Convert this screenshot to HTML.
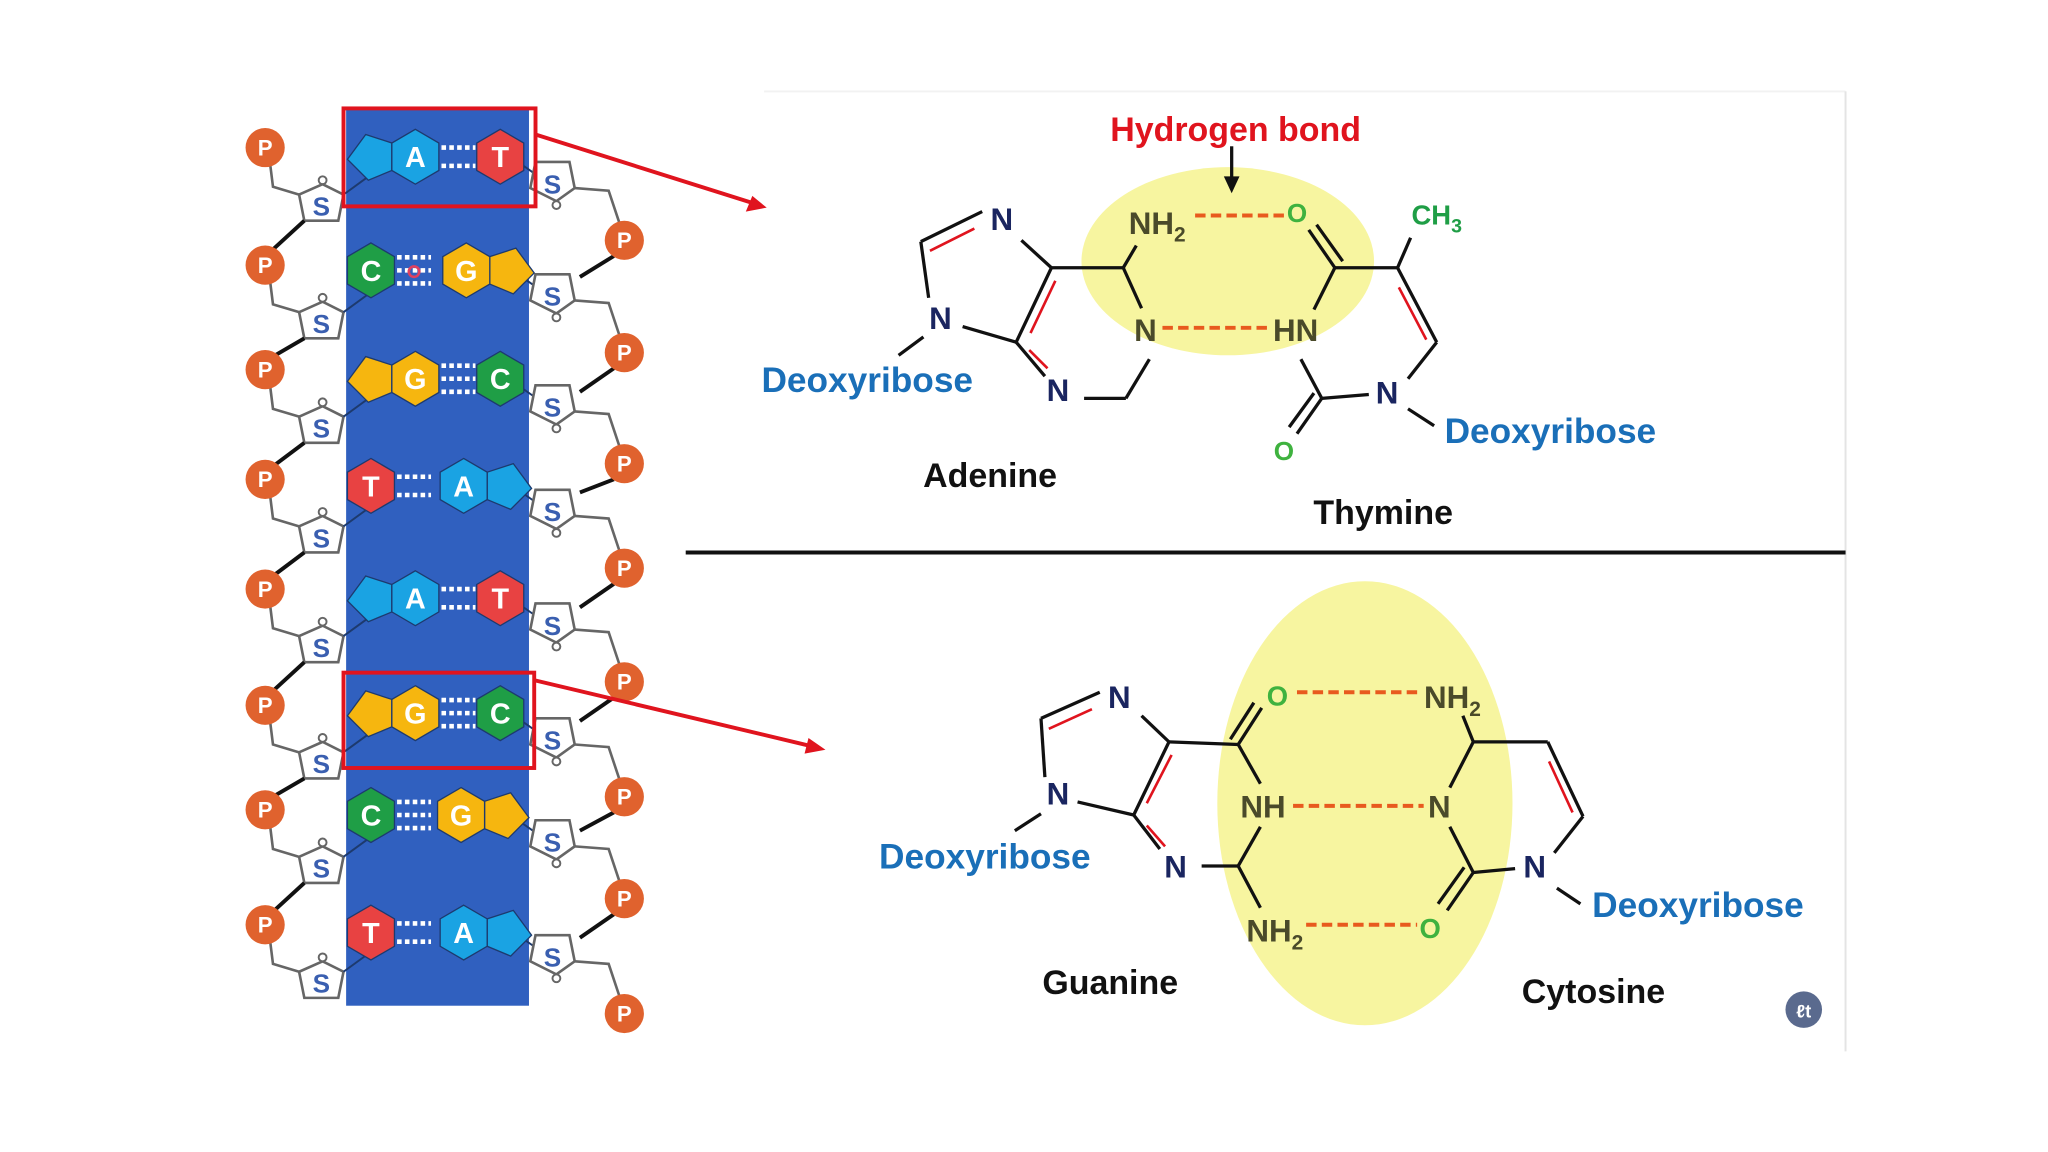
<!DOCTYPE html>
<html><head><meta charset="utf-8"><style>
html,body{margin:0;padding:0;background:#fff;}
svg{display:block;}
text{font-family:"Liberation Sans",sans-serif;font-weight:bold;}
</style></head><body>
<svg width="2048" height="1152" viewBox="0 0 1568 882" xmlns="http://www.w3.org/2000/svg">
<defs>
<g id="hex"><polygon points="0,-21 18,-10.5 18,10.5 0,21 -18,10.5 -18,-10.5" stroke="#1d3a6e" stroke-width="1"/></g>
<g id="pentL"><polygon points="-18,-10.5 -18,10.5 -36,18 -52,2 -38,-17" stroke="#1d3a6e" stroke-width="1"/></g>
<g id="pentR"><polygon points="18,-10.5 18,10.5 36,18 52,2 38,-17" stroke="#1d3a6e" stroke-width="1"/></g>
<g id="dots2" stroke="#fff" stroke-width="3.5" stroke-dasharray="3.5,2.5"><line x1="0" y1="-7" x2="26" y2="-7"/><line x1="0" y1="7" x2="26" y2="7"/></g>
<g id="dots3" stroke="#fff" stroke-width="3.5" stroke-dasharray="3.5,2.5"><line x1="0" y1="-10" x2="26" y2="-10"/><line x1="0" y1="0" x2="26" y2="0"/><line x1="0" y1="10" x2="26" y2="10"/></g>
</defs>
<rect width="1568" height="882" fill="#fff"/>
<line x1="585" y1="70" x2="1413" y2="70" stroke="#f2f2f2" stroke-width="1.5"/>
<line x1="1413" y1="70" x2="1413" y2="805" stroke="#e4e4e4" stroke-width="1.5"/>

<!-- blue band -->
<rect x="265" y="83" width="140" height="687" fill="#3060bf"/>

<!-- left backbone units -->
<g id="leftUnits" font-size="17">
<g transform="translate(203,113)">
<path d="M4,14 L6,30 L26,36" fill="none" stroke="#666" stroke-width="2"/>
<polygon points="26,36 44,28 60,36 56,56 30,56" fill="#fff" stroke="#666" stroke-width="2"/>
<line x1="60" y1="36" x2="82" y2="20" stroke="#1d3a6e" stroke-width="1.5"/>
<circle cx="44" cy="25" r="3" fill="#fff" stroke="#666" stroke-width="1.5"/>
<text x="43" y="52" fill="#3a5fb0" font-size="20" text-anchor="middle">S</text>
<line x1="30" y1="56" x2="6" y2="78" stroke="#111" stroke-width="3"/>
<circle r="15" fill="#e0622e"/><text y="6" fill="#fff" text-anchor="middle">P</text></g>
<g transform="translate(203,203)">
<path d="M4,14 L6,30 L26,36" fill="none" stroke="#666" stroke-width="2"/>
<polygon points="26,36 44,28 60,36 56,56 30,56" fill="#fff" stroke="#666" stroke-width="2"/>
<line x1="60" y1="36" x2="82" y2="20" stroke="#1d3a6e" stroke-width="1.5"/>
<circle cx="44" cy="25" r="3" fill="#fff" stroke="#666" stroke-width="1.5"/>
<text x="43" y="52" fill="#3a5fb0" font-size="20" text-anchor="middle">S</text>
<line x1="30" y1="56" x2="6" y2="70" stroke="#111" stroke-width="3"/>
<circle r="15" fill="#e0622e"/><text y="6" fill="#fff" text-anchor="middle">P</text></g>
<g transform="translate(203,283)">
<path d="M4,14 L6,30 L26,36" fill="none" stroke="#666" stroke-width="2"/>
<polygon points="26,36 44,28 60,36 56,56 30,56" fill="#fff" stroke="#666" stroke-width="2"/>
<line x1="60" y1="36" x2="82" y2="20" stroke="#1d3a6e" stroke-width="1.5"/>
<circle cx="44" cy="25" r="3" fill="#fff" stroke="#666" stroke-width="1.5"/>
<text x="43" y="52" fill="#3a5fb0" font-size="20" text-anchor="middle">S</text>
<line x1="30" y1="56" x2="6" y2="74" stroke="#111" stroke-width="3"/>
<circle r="15" fill="#e0622e"/><text y="6" fill="#fff" text-anchor="middle">P</text></g>
<g transform="translate(203,367)">
<path d="M4,14 L6,30 L26,36" fill="none" stroke="#666" stroke-width="2"/>
<polygon points="26,36 44,28 60,36 56,56 30,56" fill="#fff" stroke="#666" stroke-width="2"/>
<line x1="60" y1="36" x2="82" y2="20" stroke="#1d3a6e" stroke-width="1.5"/>
<circle cx="44" cy="25" r="3" fill="#fff" stroke="#666" stroke-width="1.5"/>
<text x="43" y="52" fill="#3a5fb0" font-size="20" text-anchor="middle">S</text>
<line x1="30" y1="56" x2="6" y2="74" stroke="#111" stroke-width="3"/>
<circle r="15" fill="#e0622e"/><text y="6" fill="#fff" text-anchor="middle">P</text></g>
<g transform="translate(203,451)">
<path d="M4,14 L6,30 L26,36" fill="none" stroke="#666" stroke-width="2"/>
<polygon points="26,36 44,28 60,36 56,56 30,56" fill="#fff" stroke="#666" stroke-width="2"/>
<line x1="60" y1="36" x2="82" y2="20" stroke="#1d3a6e" stroke-width="1.5"/>
<circle cx="44" cy="25" r="3" fill="#fff" stroke="#666" stroke-width="1.5"/>
<text x="43" y="52" fill="#3a5fb0" font-size="20" text-anchor="middle">S</text>
<line x1="30" y1="56" x2="6" y2="78" stroke="#111" stroke-width="3"/>
<circle r="15" fill="#e0622e"/><text y="6" fill="#fff" text-anchor="middle">P</text></g>
<g transform="translate(203,540)">
<path d="M4,14 L6,30 L26,36" fill="none" stroke="#666" stroke-width="2"/>
<polygon points="26,36 44,28 60,36 56,56 30,56" fill="#fff" stroke="#666" stroke-width="2"/>
<line x1="60" y1="36" x2="82" y2="20" stroke="#1d3a6e" stroke-width="1.5"/>
<circle cx="44" cy="25" r="3" fill="#fff" stroke="#666" stroke-width="1.5"/>
<text x="43" y="52" fill="#3a5fb0" font-size="20" text-anchor="middle">S</text>
<line x1="30" y1="56" x2="6" y2="70" stroke="#111" stroke-width="3"/>
<circle r="15" fill="#e0622e"/><text y="6" fill="#fff" text-anchor="middle">P</text></g>
<g transform="translate(203,620)">
<path d="M4,14 L6,30 L26,36" fill="none" stroke="#666" stroke-width="2"/>
<polygon points="26,36 44,28 60,36 56,56 30,56" fill="#fff" stroke="#666" stroke-width="2"/>
<line x1="60" y1="36" x2="82" y2="20" stroke="#1d3a6e" stroke-width="1.5"/>
<circle cx="44" cy="25" r="3" fill="#fff" stroke="#666" stroke-width="1.5"/>
<text x="43" y="52" fill="#3a5fb0" font-size="20" text-anchor="middle">S</text>
<line x1="30" y1="56" x2="6" y2="78" stroke="#111" stroke-width="3"/>
<circle r="15" fill="#e0622e"/><text y="6" fill="#fff" text-anchor="middle">P</text></g>
<g transform="translate(203,708)">
<path d="M4,14 L6,30 L26,36" fill="none" stroke="#666" stroke-width="2"/>
<polygon points="26,36 44,28 60,36 56,56 30,56" fill="#fff" stroke="#666" stroke-width="2"/>
<line x1="60" y1="36" x2="82" y2="20" stroke="#1d3a6e" stroke-width="1.5"/>
<circle cx="44" cy="25" r="3" fill="#fff" stroke="#666" stroke-width="1.5"/>
<text x="43" y="52" fill="#3a5fb0" font-size="20" text-anchor="middle">S</text>
<circle r="15" fill="#e0622e"/><text y="6" fill="#fff" text-anchor="middle">P</text></g>
</g>

<!-- right backbone units -->
<g font-size="17">
<g transform="translate(478,184)">
<line x1="-70" y1="-52" x2="-90" y2="-66" stroke="#1d3a6e" stroke-width="1.5"/>
<path d="M-38,-40 L-12,-38 L-4,-14" fill="none" stroke="#666" stroke-width="2"/>
<polygon points="-68,-60 -42,-60 -38,-40 -52,-30 -72,-40" fill="#fff" stroke="#666" stroke-width="2"/>
<circle cx="-52" cy="-27" r="3" fill="#fff" stroke="#666" stroke-width="1.5"/>
<text x="-55" y="-36" fill="#3a5fb0" font-size="20" text-anchor="middle">S</text>
<line x1="-8" y1="12" x2="-34" y2="28" stroke="#111" stroke-width="3"/>
<circle r="15" fill="#e0622e"/><text y="6" fill="#fff" text-anchor="middle">P</text></g>
<g transform="translate(478,270)">
<line x1="-70" y1="-52" x2="-90" y2="-66" stroke="#1d3a6e" stroke-width="1.5"/>
<path d="M-38,-40 L-12,-38 L-4,-14" fill="none" stroke="#666" stroke-width="2"/>
<polygon points="-68,-60 -42,-60 -38,-40 -52,-30 -72,-40" fill="#fff" stroke="#666" stroke-width="2"/>
<circle cx="-52" cy="-27" r="3" fill="#fff" stroke="#666" stroke-width="1.5"/>
<text x="-55" y="-36" fill="#3a5fb0" font-size="20" text-anchor="middle">S</text>
<line x1="-8" y1="12" x2="-34" y2="30" stroke="#111" stroke-width="3"/>
<circle r="15" fill="#e0622e"/><text y="6" fill="#fff" text-anchor="middle">P</text></g>
<g transform="translate(478,355)">
<line x1="-70" y1="-52" x2="-90" y2="-66" stroke="#1d3a6e" stroke-width="1.5"/>
<path d="M-38,-40 L-12,-38 L-4,-14" fill="none" stroke="#666" stroke-width="2"/>
<polygon points="-68,-60 -42,-60 -38,-40 -52,-30 -72,-40" fill="#fff" stroke="#666" stroke-width="2"/>
<circle cx="-52" cy="-27" r="3" fill="#fff" stroke="#666" stroke-width="1.5"/>
<text x="-55" y="-36" fill="#3a5fb0" font-size="20" text-anchor="middle">S</text>
<line x1="-8" y1="12" x2="-34" y2="22" stroke="#111" stroke-width="3"/>
<circle r="15" fill="#e0622e"/><text y="6" fill="#fff" text-anchor="middle">P</text></g>
<g transform="translate(478,435)">
<line x1="-70" y1="-52" x2="-90" y2="-66" stroke="#1d3a6e" stroke-width="1.5"/>
<path d="M-38,-40 L-12,-38 L-4,-14" fill="none" stroke="#666" stroke-width="2"/>
<polygon points="-68,-60 -42,-60 -38,-40 -52,-30 -72,-40" fill="#fff" stroke="#666" stroke-width="2"/>
<circle cx="-52" cy="-27" r="3" fill="#fff" stroke="#666" stroke-width="1.5"/>
<text x="-55" y="-36" fill="#3a5fb0" font-size="20" text-anchor="middle">S</text>
<line x1="-8" y1="12" x2="-34" y2="30" stroke="#111" stroke-width="3"/>
<circle r="15" fill="#e0622e"/><text y="6" fill="#fff" text-anchor="middle">P</text></g>
<g transform="translate(478,522)">
<line x1="-70" y1="-52" x2="-90" y2="-66" stroke="#1d3a6e" stroke-width="1.5"/>
<path d="M-38,-40 L-12,-38 L-4,-14" fill="none" stroke="#666" stroke-width="2"/>
<polygon points="-68,-60 -42,-60 -38,-40 -52,-30 -72,-40" fill="#fff" stroke="#666" stroke-width="2"/>
<circle cx="-52" cy="-27" r="3" fill="#fff" stroke="#666" stroke-width="1.5"/>
<text x="-55" y="-36" fill="#3a5fb0" font-size="20" text-anchor="middle">S</text>
<line x1="-8" y1="12" x2="-34" y2="30" stroke="#111" stroke-width="3"/>
<circle r="15" fill="#e0622e"/><text y="6" fill="#fff" text-anchor="middle">P</text></g>
<g transform="translate(478,610)">
<line x1="-70" y1="-52" x2="-90" y2="-66" stroke="#1d3a6e" stroke-width="1.5"/>
<path d="M-38,-40 L-12,-38 L-4,-14" fill="none" stroke="#666" stroke-width="2"/>
<polygon points="-68,-60 -42,-60 -38,-40 -52,-30 -72,-40" fill="#fff" stroke="#666" stroke-width="2"/>
<circle cx="-52" cy="-27" r="3" fill="#fff" stroke="#666" stroke-width="1.5"/>
<text x="-55" y="-36" fill="#3a5fb0" font-size="20" text-anchor="middle">S</text>
<line x1="-8" y1="12" x2="-34" y2="26" stroke="#111" stroke-width="3"/>
<circle r="15" fill="#e0622e"/><text y="6" fill="#fff" text-anchor="middle">P</text></g>
<g transform="translate(478,688)">
<line x1="-70" y1="-52" x2="-90" y2="-66" stroke="#1d3a6e" stroke-width="1.5"/>
<path d="M-38,-40 L-12,-38 L-4,-14" fill="none" stroke="#666" stroke-width="2"/>
<polygon points="-68,-60 -42,-60 -38,-40 -52,-30 -72,-40" fill="#fff" stroke="#666" stroke-width="2"/>
<circle cx="-52" cy="-27" r="3" fill="#fff" stroke="#666" stroke-width="1.5"/>
<text x="-55" y="-36" fill="#3a5fb0" font-size="20" text-anchor="middle">S</text>
<line x1="-8" y1="12" x2="-34" y2="30" stroke="#111" stroke-width="3"/>
<circle r="15" fill="#e0622e"/><text y="6" fill="#fff" text-anchor="middle">P</text></g>
<g transform="translate(478,776)">
<line x1="-70" y1="-52" x2="-90" y2="-66" stroke="#1d3a6e" stroke-width="1.5"/>
<path d="M-38,-40 L-12,-38 L-4,-14" fill="none" stroke="#666" stroke-width="2"/>
<polygon points="-68,-60 -42,-60 -38,-40 -52,-30 -72,-40" fill="#fff" stroke="#666" stroke-width="2"/>
<circle cx="-52" cy="-27" r="3" fill="#fff" stroke="#666" stroke-width="1.5"/>
<text x="-55" y="-36" fill="#3a5fb0" font-size="20" text-anchor="middle">S</text>
<circle r="15" fill="#e0622e"/><text y="6" fill="#fff" text-anchor="middle">P</text></g>
</g>

<!-- base pairs -->
<g font-size="22" text-anchor="middle">
<!-- 1 A-T -->
<g transform="translate(0,120)">
<use href="#pentL" x="318" fill="#1aa3e3"/><use href="#hex" x="318" fill="#1aa3e3"/>
<use href="#dots2" x="338"/><use href="#hex" x="383" fill="#e84242"/>
<text x="318" y="8" fill="#fff">A</text><text x="383" y="8" fill="#fff">T</text></g>
<!-- 2 C-G -->
<g transform="translate(0,207)">
<use href="#hex" x="284" fill="#1f9e46"/><use href="#dots3" x="304"/>
<use href="#pentR" x="357" fill="#f6b60f"/><use href="#hex" x="357" fill="#f6b60f"/>
<circle cx="317" cy="1" r="4" fill="none" stroke="#e04060" stroke-width="2"/>
<text x="284" y="8" fill="#fff">C</text><text x="357" y="8" fill="#fff">G</text></g>
<!-- 3 G-C -->
<g transform="translate(0,290)">
<use href="#pentL" x="318" fill="#f6b60f"/><use href="#hex" x="318" fill="#f6b60f"/>
<use href="#dots3" x="338"/><use href="#hex" x="383" fill="#1f9e46"/>
<text x="318" y="8" fill="#fff">G</text><text x="383" y="8" fill="#fff">C</text></g>
<!-- 4 T-A -->
<g transform="translate(0,372)">
<use href="#hex" x="284" fill="#e84242"/><use href="#dots2" x="304"/>
<use href="#pentR" x="355" fill="#1aa3e3"/><use href="#hex" x="355" fill="#1aa3e3"/>
<text x="284" y="8" fill="#fff">T</text><text x="355" y="8" fill="#fff">A</text></g>
<!-- 5 A-T -->
<g transform="translate(0,458)">
<use href="#pentL" x="318" fill="#1aa3e3"/><use href="#hex" x="318" fill="#1aa3e3"/>
<use href="#dots2" x="338"/><use href="#hex" x="383" fill="#e84242"/>
<text x="318" y="8" fill="#fff">A</text><text x="383" y="8" fill="#fff">T</text></g>
<!-- 6 G-C -->
<g transform="translate(0,546)">
<use href="#pentL" x="318" fill="#f6b60f"/><use href="#hex" x="318" fill="#f6b60f"/>
<use href="#dots3" x="338"/><use href="#hex" x="383" fill="#1f9e46"/>
<text x="318" y="8" fill="#fff">G</text><text x="383" y="8" fill="#fff">C</text></g>
<!-- 7 C-G -->
<g transform="translate(0,624)">
<use href="#hex" x="284" fill="#1f9e46"/><use href="#dots3" x="304"/>
<use href="#pentR" x="353" fill="#f6b60f"/><use href="#hex" x="353" fill="#f6b60f"/>
<text x="284" y="8" fill="#fff">C</text><text x="353" y="8" fill="#fff">G</text></g>
<!-- 8 T-A -->
<g transform="translate(0,714)">
<use href="#hex" x="284" fill="#e84242"/><use href="#dots2" x="304"/>
<use href="#pentR" x="355" fill="#1aa3e3"/><use href="#hex" x="355" fill="#1aa3e3"/>
<text x="284" y="8" fill="#fff">T</text><text x="355" y="8" fill="#fff">A</text></g>
</g>

<!-- red highlight boxes and arrows -->
<rect x="263" y="83" width="147" height="75" fill="none" stroke="#e0141e" stroke-width="3"/>
<rect x="263" y="515" width="146" height="73" fill="none" stroke="#e0141e" stroke-width="3"/>
<line x1="410" y1="103" x2="575" y2="155" stroke="#e0141e" stroke-width="3"/>
<polygon points="587,159 571,162 576,150" fill="#e0141e"/>
<line x1="410" y1="521" x2="620" y2="571" stroke="#e0141e" stroke-width="3"/>
<polygon points="632,574 616,577 619,565" fill="#e0141e"/>

<!-- divider -->
<line x1="525" y1="423" x2="1413" y2="423" stroke="#111" stroke-width="3"/>

<!-- ===== Top: Adenine - Thymine ===== -->
<ellipse cx="940" cy="200" rx="112" ry="72" fill="#f7f5a0"/>
<text x="946" y="108" fill="#e0141e" font-size="26" text-anchor="middle">Hydrogen bond</text>
<line x1="943" y1="112" x2="943" y2="138" stroke="#111" stroke-width="2.5"/>
<polygon points="943,148 937,135 949,135" fill="#111"/>
<g stroke="#111" stroke-width="2.5" fill="none">
<line x1="705" y1="185" x2="752" y2="162"/>
<line x1="705" y1="185" x2="711" y2="228"/>
<line x1="707" y1="258" x2="688" y2="272"/>
<line x1="737" y1="250" x2="778" y2="262"/>
<line x1="778" y1="262" x2="805" y2="205"/>
<line x1="778" y1="262" x2="800" y2="288"/>
<line x1="782" y1="184" x2="805" y2="205"/>
<line x1="805" y1="205" x2="860" y2="205"/>
<line x1="860" y1="205" x2="870" y2="188"/>
<line x1="860" y1="205" x2="874" y2="236"/>
<line x1="880" y1="275" x2="862" y2="305"/>
<line x1="862" y1="305" x2="830" y2="305"/>
<!-- thymine -->
<line x1="1022" y1="205" x2="1002" y2="176"/>
<line x1="1028" y1="200" x2="1008" y2="172"/>
<line x1="1022" y1="205" x2="1070" y2="205"/>
<line x1="1070" y1="205" x2="1080" y2="182"/>
<line x1="1070" y1="205" x2="1100" y2="262"/>
<line x1="1100" y1="262" x2="1078" y2="290"/>
<line x1="1078" y1="313" x2="1098" y2="326"/>
<line x1="1048" y1="302" x2="1012" y2="305"/>
<line x1="1012" y1="305" x2="993" y2="332"/>
<line x1="1006" y1="301" x2="987" y2="327"/>
<line x1="1012" y1="305" x2="996" y2="275"/>
<line x1="1006" y1="237" x2="1022" y2="205"/>
</g>
<g stroke="#e0141e" stroke-width="2">
<line x1="712" y1="192" x2="746" y2="175"/>
<line x1="789" y1="255" x2="808" y2="215"/>
<line x1="788" y1="268" x2="802" y2="282"/>
<line x1="1071" y1="220" x2="1092" y2="260"/>
</g>
<g stroke="#e85a1e" stroke-width="3" stroke-dasharray="8,4">
<line x1="915" y1="165" x2="984" y2="165"/>
<line x1="890" y1="251" x2="970" y2="251"/>
</g>
<g font-size="24" text-anchor="middle">
<text x="767" y="176" fill="#1a2560">N</text>
<text x="720" y="252" fill="#1a2560">N</text>
<text x="810" y="307" fill="#1a2560">N</text>
<text x="877" y="261" fill="#4a4a2a">N</text>
<text x="886" y="179" fill="#4a4a2a">NH<tspan font-size="16" dy="6">2</tspan></text>
<text x="993" y="170" fill="#3fb23f" font-size="20">O</text>
<text x="992" y="261" fill="#4a4a2a">HN</text>
<text x="1062" y="309" fill="#1a2560">N</text>
<text x="983" y="352" fill="#3fb23f" font-size="20">O</text>
<text x="1100" y="172" fill="#1f9e46" font-size="21">CH<tspan font-size="15" dy="6">3</tspan></text>
<text x="664" y="300" fill="#1a6fb8" font-size="27">Deoxyribose</text>
<text x="1187" y="339" fill="#1a6fb8" font-size="27">Deoxyribose</text>
<text x="758" y="373" fill="#111" font-size="26">Adenine</text>
<text x="1059" y="401" fill="#111" font-size="26">Thymine</text>
</g>

<!-- ===== Bottom: Guanine - Cytosine ===== -->
<ellipse cx="1045" cy="615" rx="113" ry="170" fill="#f7f5a0"/>
<g stroke="#111" stroke-width="2.5" fill="none">
<line x1="797" y1="550" x2="842" y2="530"/>
<line x1="797" y1="550" x2="800" y2="595"/>
<line x1="797" y1="623" x2="777" y2="636"/>
<line x1="825" y1="614" x2="868" y2="624"/>
<line x1="868" y1="624" x2="895" y2="568"/>
<line x1="868" y1="624" x2="888" y2="650"/>
<line x1="874" y1="548" x2="895" y2="568"/>
<line x1="895" y1="568" x2="948" y2="570"/>
<line x1="948" y1="570" x2="966" y2="542"/>
<line x1="942" y1="566" x2="960" y2="538"/>
<line x1="948" y1="570" x2="965" y2="600"/>
<line x1="965" y1="633" x2="948" y2="663"/>
<line x1="948" y1="663" x2="920" y2="663"/>
<line x1="948" y1="663" x2="965" y2="695"/>
<!-- cytosine -->
<line x1="1120" y1="548" x2="1128" y2="568"/>
<line x1="1128" y1="568" x2="1185" y2="568"/>
<line x1="1185" y1="568" x2="1212" y2="625"/>
<line x1="1212" y1="625" x2="1190" y2="653"/>
<line x1="1192" y1="680" x2="1210" y2="692"/>
<line x1="1160" y1="665" x2="1128" y2="668"/>
<line x1="1128" y1="668" x2="1108" y2="697"/>
<line x1="1121" y1="664" x2="1101" y2="692"/>
<line x1="1128" y1="668" x2="1110" y2="633"/>
<line x1="1110" y1="603" x2="1128" y2="568"/>
</g>
<g stroke="#e0141e" stroke-width="2">
<line x1="803" y1="558" x2="836" y2="543"/>
<line x1="878" y1="615" x2="897" y2="578"/>
<line x1="878" y1="632" x2="892" y2="648"/>
<line x1="1186" y1="583" x2="1204" y2="622"/>
</g>
<g stroke="#e85a1e" stroke-width="3" stroke-dasharray="8,4">
<line x1="993" y1="530" x2="1088" y2="530"/>
<line x1="990" y1="617" x2="1090" y2="617"/>
<line x1="1000" y1="708" x2="1085" y2="708"/>
</g>
<g font-size="24" text-anchor="middle">
<text x="857" y="542" fill="#1a2560">N</text>
<text x="810" y="616" fill="#1a2560">N</text>
<text x="900" y="672" fill="#1a2560">N</text>
<text x="978" y="540" fill="#3fb23f" font-size="21">O</text>
<text x="967" y="626" fill="#4a4a2a">NH</text>
<text x="976" y="721" fill="#4a4a2a">NH<tspan font-size="16" dy="6">2</tspan></text>
<text x="1112" y="542" fill="#4a4a2a">NH<tspan font-size="16" dy="6">2</tspan></text>
<text x="1102" y="626" fill="#4a4a2a">N</text>
<text x="1095" y="718" fill="#3fb23f" font-size="21">O</text>
<text x="1175" y="672" fill="#1a2560">N</text>
<text x="754" y="665" fill="#1a6fb8" font-size="27">Deoxyribose</text>
<text x="1300" y="702" fill="#1a6fb8" font-size="27">Deoxyribose</text>
<text x="850" y="761" fill="#111" font-size="26">Guanine</text>
<text x="1220" y="768" fill="#111" font-size="26">Cytosine</text>
</g>

<!-- small logo -->
<circle cx="1381" cy="773" r="14" fill="#5a6a8e"/>
<text x="1381" y="779" fill="#fff" font-size="14" text-anchor="middle">ℓt</text>
</svg>
</body></html>
